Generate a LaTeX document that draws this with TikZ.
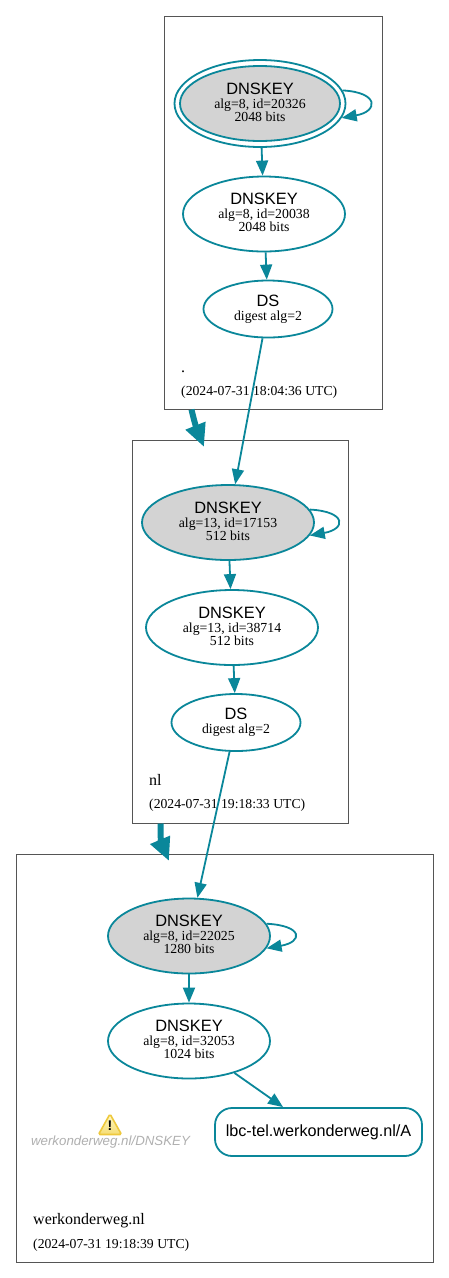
\documentclass[tikz,border=0pt]{standalone}
\usepackage{fontspec}
\setmainfont{Liberation Serif}
\setsansfont{Liberation Sans}
\usepackage{xcolor}
\usetikzlibrary{arrows.meta,shapes.geometric}
\definecolor{figedge}{RGB}{10,135,154}
\definecolor{figbox}{RGB}{85,85,85}
\definecolor{figkey}{RGB}{211,211,211}
\definecolor{figwarn}{RGB}{176,176,176}
\definecolor{figgold}{RGB}{238,200,60}
\definecolor{figpale}{RGB}{255,250,200}
\newcommand{\keytext}[3]{{\fontsize{16.4}{16}\sffamily #1}\\[1pt]#2\\#3}
\newcommand{\dstext}[2]{{\fontsize{16.4}{16}\sffamily #1}\\[1pt]#2}
\tikzset{
  zone/.style   ={draw=figbox, line width=0.7pt, inner sep=0pt},
  key/.style    ={ellipse, draw=figedge, line width=1.8pt, inner sep=0pt, align=center, text depth=3pt, font=\fontsize{13.8}{13}\selectfont},
  ksk/.style    ={key, fill=figkey},
  keywide/.style={minimum width=162pt, minimum height=75pt},
  dsnode/.style ={minimum width=129pt, minimum height=57pt},
  rrset/.style  ={draw=figedge, line width=1.8pt, rounded corners=17pt, minimum width=207pt, minimum height=48pt, inner sep=0pt, font=\fontsize{16.2}{16}\sffamily},
  lab/.style    ={anchor=base west, inner sep=0pt, font=\fontsize{16}{15}\selectfont},
  labs/.style   ={anchor=base west, inner sep=0pt, font=\fontsize{13.7}{13}\selectfont},
  edge/.style   ={draw=figedge, line width=1.8pt, -{Triangle[length=15pt,width=12pt]}},
  zoneedge/.style={draw=figedge, line width=6pt, -{Triangle[length=23pt,width=20pt]}},
  selfloop/.style={edge, out=-3, in=10, distance=37pt},
}
\begin{document}
\begin{tikzpicture}[x=1pt,y=-1pt]
  \useasboundingbox[fill=white] (0,0) rectangle (449,1278);
  % zones
  \node[zone, minimum width=218pt, minimum height=393pt] (zoneroot) at (273,212.5) {};
  \node[zone, minimum width=216pt, minimum height=383pt] (zonenl) at (240,631.5) {};
  \node[zone, minimum width=417pt, minimum height=408pt] (zonewerk) at (224.5,1058) {};
  % root
  \node[key, minimum width=171pt, minimum height=87pt] (rootsep) at (260,103.5) {};
  \node[ksk, keywide, minimum width=160pt] (rootksk) at (260,103.5) {\keytext{DNSKEY}{alg=8, id=20326}{2048 bits}};
  \node[key, keywide] (rootzsk) at (264,214) {\keytext{DNSKEY}{alg=8, id=20038}{2048 bits}};
  \node[key, dsnode] (rootds) at (268,309) {\dstext{DS}{digest alg=2}};
  \node[lab] (rootname) at (181,372) {.};
  \node[labs] (rootdate) at (181,395) {(2024-07-31 18:04:36 UTC)};
  % nl
  \node[ksk, keywide, minimum width=172pt] (nlksk) at (228,522.5) {\keytext{DNSKEY}{alg=13, id=17153}{512 bits}};
  \node[key, keywide, minimum width=172pt] (nlzsk) at (232,627.5) {\keytext{DNSKEY}{alg=13, id=38714}{512 bits}};
  \node[key, dsnode] (nlds) at (236,722.5) {\dstext{DS}{digest alg=2}};
  \node[lab] (nlname) at (149,785) {nl};
  \node[labs] (nldate) at (149,808) {(2024-07-31 19:18:33 UTC)};
  % werkonderweg.nl
  \node[ksk, keywide] (werkksk) at (189,936) {\keytext{DNSKEY}{alg=8, id=22025}{1280 bits}};
  \node[key, keywide] (werkzsk) at (189,1041) {\keytext{DNSKEY}{alg=8, id=32053}{1024 bits}};
  \node[rrset] (werka) at (318.5,1132) {lbc-tel.werkonderweg.nl/A};
  \shade[top color=figpale, bottom color=figgold!60!figpale, draw=figgold, line width=1.6pt, rounded corners=1.5pt] (110,1114) -- (121.5,1134.5) -- (98.5,1134.5) -- cycle;
  \node[inner sep=0pt, font=\fontsize{14}{14}\sffamily\bfseries] (warnmark) at (110,1125.5) {!};
  \node[inner sep=0pt, text=figwarn, font=\fontsize{13.3}{14}\sffamily\itshape] (warnname) at (110.5,1142) {werkonderweg.nl/DNSKEY};
  \node[lab] (werkname) at (33,1224) {werkonderweg.nl};
  \node[labs] (werkdate) at (33,1248) {(2024-07-31 19:18:39 UTC)};
  % edges
  \draw[selfloop] (rootsep.9) to (rootsep.-10);
  \draw[selfloop] (nlksk.9) to (nlksk.-9);
  \draw[selfloop] (werkksk.9) to (werkksk.-9);
  \draw[edge] (rootsep) -- (rootzsk);
  \draw[edge] (rootzsk) -- (rootds);
  \draw[edge] (rootds) -- (nlksk);
  \draw[edge] (nlksk) -- (nlzsk);
  \draw[edge] (nlzsk) -- (nlds);
  \draw[edge] (nlds) -- (werkksk);
  \draw[edge] (werkksk) -- (werkzsk);
  \draw[edge] (werkzsk) -- (werka);
  \coordinate (rootout) at (191.5,409.5);
  \coordinate (nlin) at (204,447);
  \coordinate (nlout) at (160.5,823.5);
  \coordinate (werkin) at (169,861);
  \draw[zoneedge] (rootout) .. controls +(1.5,7) and +(-8,-20) .. (nlin);
  \draw[zoneedge] (nlout) .. controls +(0,8) and +(-8,-19) .. (werkin);
\end{tikzpicture}
\end{document}
